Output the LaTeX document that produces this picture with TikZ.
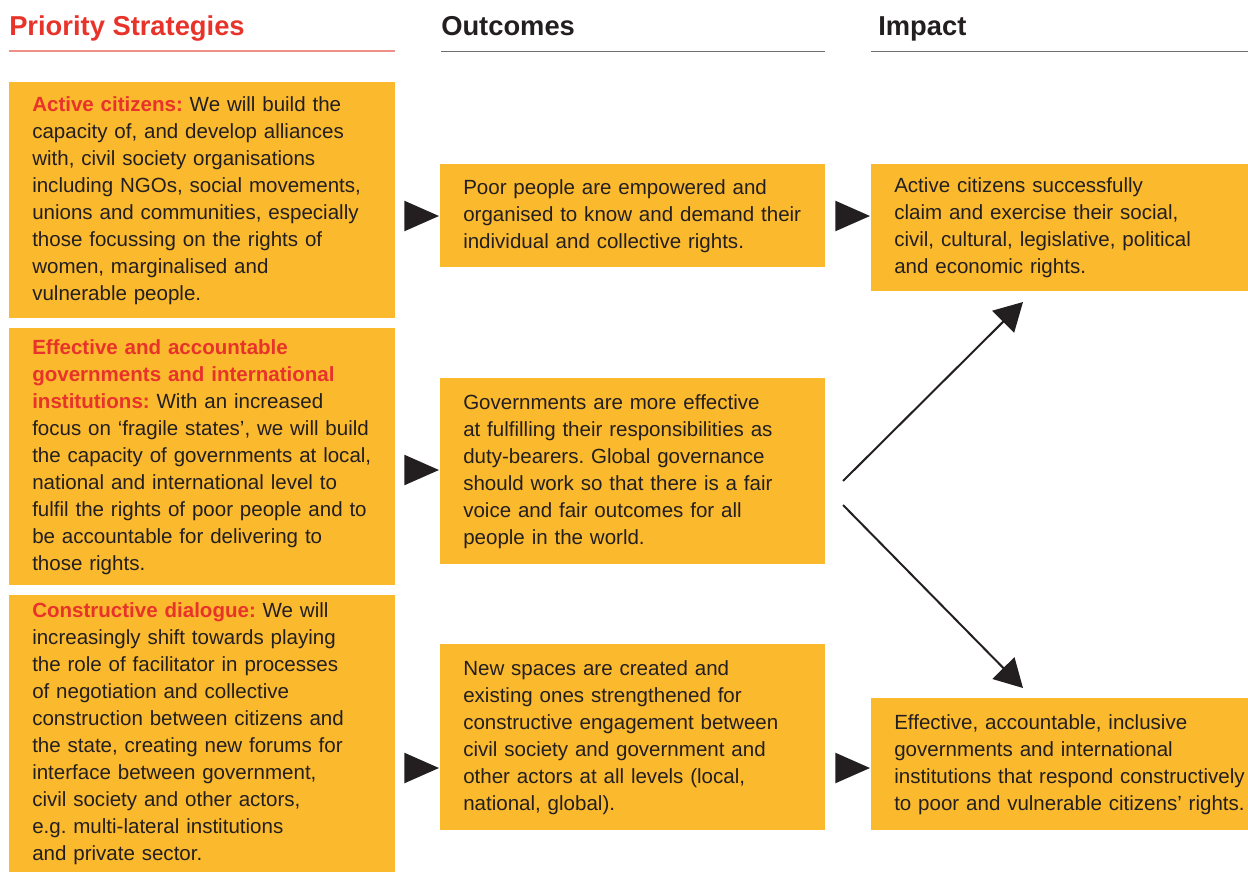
\documentclass[tikz,border=0pt]{standalone}
\usepackage{fontspec}
\setmainfont{Liberation Sans}
\usetikzlibrary{arrows.meta,shapes.geometric}

\definecolor{boxorange}{HTML}{FBB92E}
\definecolor{headred}{HTML}{E8332A}
\definecolor{rulered}{HTML}{EE8F88}
\definecolor{rulegrey}{HTML}{6D6E70}
\definecolor{inkdark}{HTML}{231F20}

\newcommand{\lead}[1]{\textcolor{headred}{\textbf{#1}}}
\frenchspacing

\begin{document}
\begin{tikzpicture}[
  x=0.75pt, y=-0.75pt,
  card/.style={fill=boxorange, anchor=north west, align=left, inner xsep=17.25pt, inner ysep=0pt,
    font=\fontsize{15.4}{20.25}\selectfont, text=inkdark},
  stratcard/.style={card, text width=255pt},
  outcard/.style={card, text width=254.25pt},
  impcard/.style={card, text width=248.25pt},
  heading/.style={anchor=base west, inner sep=0pt, font=\fontsize{20.5}{24}\selectfont\bfseries},
  tri/.style={isosceles triangle, isosceles triangle stretches, shape border rotate=0, anchor=west,
    fill=inkdark, inner sep=0pt, minimum width=23pt, minimum height=26pt},
  flow/.style={-{Triangle[length=21pt,width=23pt]}, line width=1.5pt, draw=inkdark}
]
  \useasboundingbox (0,0) rectangle (1248,872);

  % column headings
  \node[heading, text=headred] (hstrat) at (9,35) {Priority Strategies};
  \node[heading, text=inkdark] (hout) at (441,35) {Outcomes};
  \node[heading, text=inkdark] (himp) at (878,35) {Impact};
  \draw[rulered, line width=0.9pt] (9,51) -- (395,51);
  \draw[rulegrey, line width=0.75pt] (441,51) -- (825,51);
  \draw[rulegrey, line width=0.75pt] (871,51) -- (1248,51);

  % priority strategies
  \node[stratcard, minimum height=177pt] (active) at (9,82) {\lead{Active citizens:} We will build the\\
    capacity of, and develop alliances\\
    with, civil society organisations\\
    including NGOs, social movements,\\
    unions and communities, especially\\
    those focussing on the rights of\\
    women, marginalised and\\
    vulnerable people.};
  \node[stratcard, minimum height=192.75pt] (govern) at (9,328) {\lead{Effective and accountable}\\
    \lead{governments and international}\\
    \lead{institutions:} With an increased\\
    focus on ‘fragile states’, we will build\\
    the capacity of governments at local,\\
    national and international level to\\
    fulfil the rights of poor people and to\\
    be accountable for delivering to\\
    those rights.};
  \node[stratcard, minimum height=207.75pt] (dialogue) at (9,595) {\lead{Constructive dialogue:} We will\\
    increasingly shift towards playing\\
    the role of facilitator in processes\\
    of negotiation and collective\\
    construction between citizens and\\
    the state, creating new forums for\\
    interface between government,\\
    civil society and other actors,\\
    e.g. multi-lateral institutions\\
    and private sector.};

  % outcomes
  \node[outcard, minimum height=77.25pt] (empower) at (440,164) {Poor people are empowered and\\
    organised to know and demand their\\
    individual and collective rights.};
  \node[outcard, minimum height=139.5pt] (effective) at (440,378) {Governments are more effective\\
    at fulfilling their responsibilities as\\
    duty-bearers. Global governance\\
    should work so that there is a fair\\
    voice and fair outcomes for all\\
    people in the world.};
  \node[outcard, minimum height=139.5pt] (spaces) at (440,644) {New spaces are created and\\
    existing ones strengthened for\\
    constructive engagement between\\
    civil society and government and\\
    other actors at all levels (local,\\
    national, global).};

  % impact
  \node[impcard, minimum height=95.25pt] (claim) at (871,164) {Active citizens successfully\\
    claim and exercise their social,\\
    civil, cultural, legislative, political\\
    and economic rights.};
  \node[impcard, minimum height=99pt] (inclusive) at (871,698) {Effective, accountable, inclusive\\
    governments and international\\
    \mbox{institutions that respond constructively}\\
    \mbox{to poor and vulnerable citizens’ rights.}};

  % pointers between the columns
  \node[tri] (t1) at (404,216) {};
  \node[tri] (t2) at (404,470) {};
  \node[tri] (t3) at (404,768) {};
  \node[tri] (t4) at (835,216) {};
  \node[tri] (t5) at (835,768) {};

  \coordinate (upfrom) at (843,481);
  \coordinate (upto) at (1023,302);
  \coordinate (downfrom) at (843,505);
  \coordinate (downto) at (1023,688);
  \draw[flow] (upfrom) -- (upto);
  \draw[flow] (downfrom) -- (downto);
\end{tikzpicture}
\end{document}
